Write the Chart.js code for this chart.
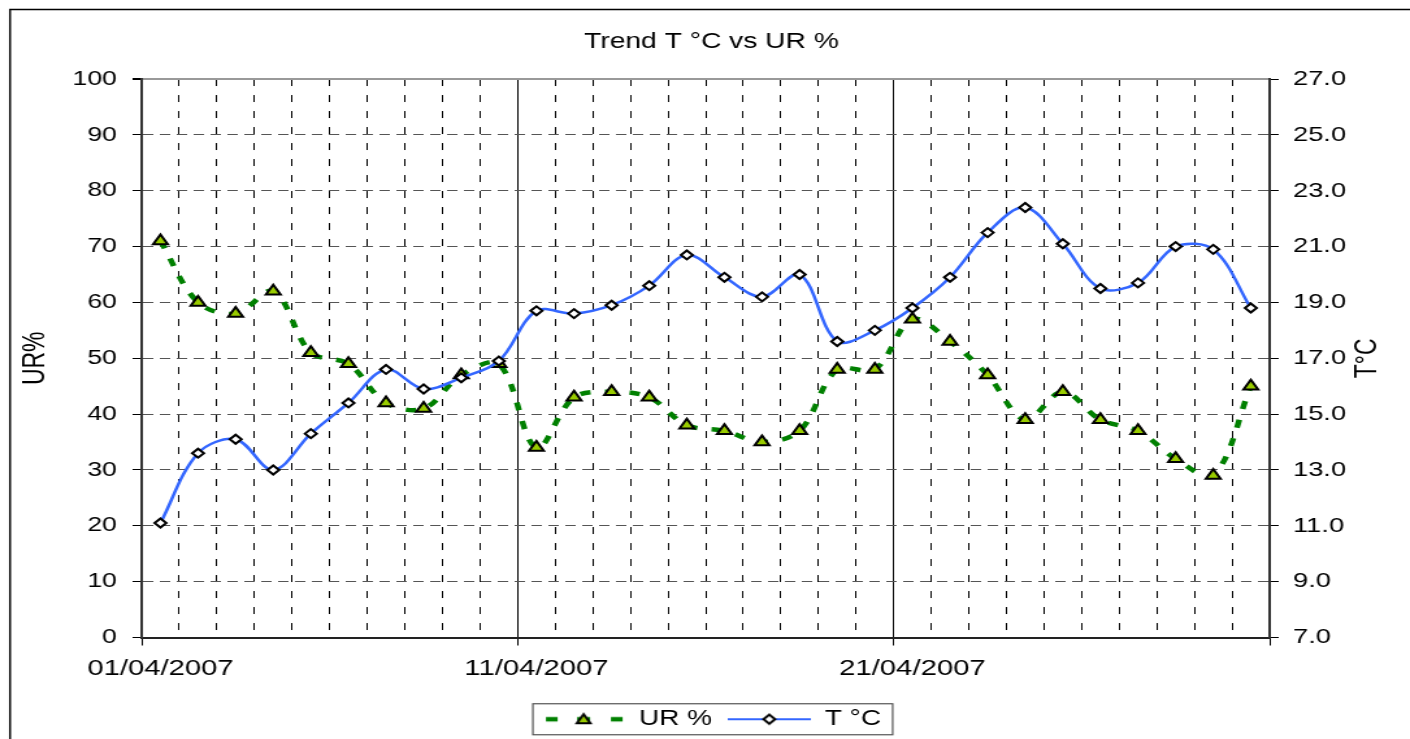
<!DOCTYPE html>
<html>
<head>
<meta charset="utf-8">
<script src="https://cdn.jsdelivr.net/npm/chart.js@4.4.0/dist/chart.umd.min.js"></script>
<style>
html, body { margin: 0; padding: 0; background: #fff; overflow: hidden; }
#contenitore { width: 1085px; height: 739px; transform: scaleX(1.2995); transform-origin: 0 0; }
</style>
</head>
<body>
<div id="contenitore"><canvas id="graficoTrend" width="1085" height="739"></canvas></div>
<script>
var giorni = ['01/04/2007','02/04/2007','03/04/2007','04/04/2007','05/04/2007','06/04/2007','07/04/2007','08/04/2007','09/04/2007','10/04/2007',
              '11/04/2007','12/04/2007','13/04/2007','14/04/2007','15/04/2007','16/04/2007','17/04/2007','18/04/2007','19/04/2007','20/04/2007',
              '21/04/2007','22/04/2007','23/04/2007','24/04/2007','25/04/2007','26/04/2007','27/04/2007','28/04/2007','29/04/2007','30/04/2007'];
var etichetteAsse = ['01/04/2007','11/04/2007','21/04/2007'];

var umidita = [71, 60, 58, 62, 51, 49, 42, 41, 47, 49,
               34, 43, 44, 43, 38, 37, 35, 37, 48, 48,
               57, 53, 47, 39, 44, 39, 37, 32, 29, 45];
var temperatura = [11.1, 13.6, 14.1, 13.0, 14.3, 15.4, 16.6, 15.9, 16.3, 16.9,
                   18.7, 18.6, 18.9, 19.6, 20.7, 19.9, 19.2, 20.0, 17.6, 18.0,
                   18.8, 19.9, 21.5, 22.4, 21.1, 19.5, 19.7, 21.0, 20.9, 18.8];

var VERDE = '#008000', GIALLO = '#99CC00', BLU = '#3366FF';
Chart.defaults.font.family = '"Liberation Sans", Arial, sans-serif';
Chart.defaults.color = '#000';

// icone della legenda: linea + marcatore, come in Excel
function triangolo(c, x, y, r) {
	c.beginPath();
	c.moveTo(x, y - r);
	c.lineTo(x + Math.sin(2 * Math.PI / 3) * r, y + r / 2);
	c.lineTo(x - Math.sin(2 * Math.PI / 3) * r, y + r / 2);
	c.closePath();
	c.fillStyle = GIALLO; c.fill();
	c.strokeStyle = '#000'; c.lineWidth = 2; c.stroke();
}
function rombo(c, x, y, r) {
	c.beginPath();
	c.moveTo(x - r, y); c.lineTo(x, y - r); c.lineTo(x + r, y); c.lineTo(x, y + r);
	c.closePath();
	c.fillStyle = '#fff'; c.fill();
	c.strokeStyle = '#000'; c.lineWidth = 2; c.stroke();
}
function iconaUR() {
	var cv = document.createElement('canvas'); cv.width = 64; cv.height = 18;
	var c = cv.getContext('2d');
	c.strokeStyle = VERDE; c.lineWidth = 4.5;
	[[3, 12], [27, 37], [53, 62]].forEach(function(s) {
		c.beginPath(); c.moveTo(s[0], 9); c.lineTo(s[1], 9); c.stroke();
	});
	triangolo(c, 32, 10, 6);
	return cv;
}
function iconaT() {
	var cv = document.createElement('canvas'); cv.width = 64; cv.height = 18;
	var c = cv.getContext('2d');
	c.strokeStyle = BLU; c.lineWidth = 2;
	c.beginPath(); c.moveTo(0, 9); c.lineTo(64, 9); c.stroke();
	rombo(c, 32, 9, 4.5);
	return cv;
}

var cornice = {
	id: 'cornice',
	beforeDraw: function(chart) {
		var c = chart.ctx;
		c.save();
		c.strokeStyle = '#000'; c.lineWidth = 1.5;
		c.strokeRect(7.7, 9.5, chart.width, chart.height);
		c.restore();
	},
	afterDraw: function(chart) {
		var c = chart.ctx, area = chart.chartArea;
		// titolo asse destro letto dal basso verso l'alto
		c.save();
		c.translate(chart.scales.y1.right - 32, (area.top + area.bottom) / 2);
		c.rotate(-Math.PI / 2);
		c.font = '23px "Liberation Sans", Arial, sans-serif';
		c.fillStyle = '#000'; c.textAlign = 'center'; c.textBaseline = 'middle';
		c.fillText('T°C', 0, 0);
		c.restore();
		// riquadro della legenda
		var hb = chart.legend.legendHitBoxes;
		if (hb && hb.length) {
			var x1 = hb[0].left - 7, x2 = hb[hb.length - 1].left + hb[hb.length - 1].width + 9;
			var yc = hb[0].top + hb[0].height / 2;
			c.save();
			c.strokeStyle = '#555'; c.lineWidth = 1.2;
			c.strokeRect(x1, yc - 15.5, x2 - x1, 31);
			c.restore();
		}
	}
};

new Chart(document.getElementById('graficoTrend'), {
	type: 'line',
	data: {
		labels: giorni,
		datasets: [{
			label: 'UR %',
			data: umidita,
			yAxisID: 'y',
			order: 2,
			borderColor: VERDE,
			borderWidth: 4.5,
			borderDash: [8, 11],
			tension: 0.35,
			fill: false,
			pointStyle: 'triangle',
			pointRadius: 6.5,
			pointBackgroundColor: GIALLO,
			pointBorderColor: '#000',
			pointBorderWidth: 2
		}, {
			label: 'T °C',
			data: temperatura,
			yAxisID: 'y1',
			order: 1,
			borderColor: BLU,
			borderWidth: 2.5,
			tension: 0.35,
			fill: false,
			pointStyle: 'rectRot',
			pointRadius: 4.5,
			pointBackgroundColor: '#fff',
			pointBorderColor: '#000',
			pointBorderWidth: 2
		}]
	},
	options: {
		responsive: false,
		animation: false,
		layout: { padding: { left: 10, right: 0, top: 0, bottom: -1 } },
		plugins: {
			title: {
				display: true,
				text: 'Trend T °C vs UR %',
				font: { size: 21.7, weight: 'normal' },
				color: '#000',
				padding: { top: 29, bottom: 24 }
			},
			legend: {
				position: 'bottom',
				labels: {
					usePointStyle: true,
					pointStyleWidth: 64,
					padding: 12,
					font: { size: 21.5, lineHeight: 1 },
					color: '#000',
					generateLabels: function() {
						return [
							{ text: 'UR %', pointStyle: iconaUR(), fillStyle: GIALLO, strokeStyle: VERDE, lineWidth: 0, datasetIndex: 0, hidden: false },
							{ text: 'T °C', pointStyle: iconaT(), fillStyle: '#fff', strokeStyle: BLU, lineWidth: 0, datasetIndex: 1, hidden: false }
						];
					}
				}
			},
			tooltip: { enabled: false }
		},
		scales: {
			x: {
				type: 'category',
				offset: true,
				grid: {
					offset: true,
					color: function(ctx) {
						return (ctx.index === undefined || ctx.index === 0) ? 'rgba(0,0,0,0)' : '#000';
					},
					lineWidth: 1,
					tickLength: 8,
					tickWidth: 1,
					tickColor: function(ctx) {
						return (ctx.index === undefined || ctx.index % 10 === 0) ? '#000' : 'rgba(0,0,0,0)';
					}
				},
				border: {
					color: '#222',
					width: 2,
					dash: function(ctx) {
						return (ctx.index !== undefined && ctx.index % 10 === 0) ? [] : [7, 9];
					}
				},
				ticks: {
					autoSkip: false,
					maxRotation: 0,
					padding: 10,
					font: { size: 22.5 },
					callback: function(v, i) {
						return etichetteAsse.indexOf(giorni[i]) >= 0 ? giorni[i] : '';
					}
				},
				afterFit: function(s) { s.height = 59; }
			},
			y: {
				position: 'left',
				min: 0,
				max: 100,
				ticks: { stepSize: 10, padding: 12, font: { size: 20.5 } },
				grid: {
					color: function(ctx) {
						var v = ctx.tick ? ctx.tick.value : 0;
						return v === 100 ? '#999' : (v === 0 ? 'rgba(0,0,0,0)' : '#555');
					},
					lineWidth: function(ctx) { return ctx.tick && ctx.tick.value === 100 ? 2 : 1; },
					tickLength: 7,
					tickColor: '#000'
				},
				border: {
					color: '#333',
					width: 2,
					dash: function(ctx) { return ctx.tick && ctx.tick.value === 100 ? [] : [8, 5]; }
				},
				title: { display: true, text: 'UR%', font: { size: 23 }, color: '#000' },
				afterFit: function(s) { s.width = 99; }
			},
			y1: {
				position: 'right',
				min: 7,
				max: 27,
				ticks: {
					stepSize: 2,
					padding: 11,
					font: { size: 21 },
					callback: function(v) { return v.toFixed(1); }
				},
				grid: { drawOnChartArea: false, tickLength: 7, tickColor: '#000' },
				border: { color: '#333', width: 2 },
				afterFit: function(s) { s.width = 108; }
			}
		}
	},
	plugins: [cornice]
});
</script>
</body>
</html>
